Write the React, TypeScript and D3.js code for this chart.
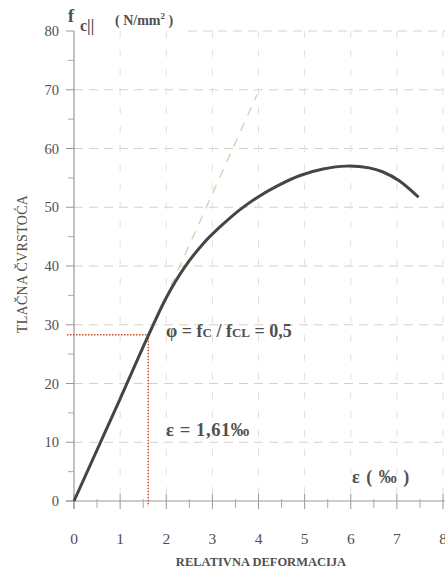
import React from "react";
import * as d3 from "d3";

// stress-strain curve
const strain = [0, 1.0, 1.62, 2.0, 2.4, 2.8, 3.2, 3.6, 4.0, 4.4, 4.9, 5.4, 5.9, 6.4, 6.7, 7.05, 7.47];
const stress = [0, 17.4, 28.3, 34.6, 39.8, 43.8, 46.9, 49.6, 51.8, 53.6, 55.4, 56.5, 57.0, 56.7, 56.0, 54.5, 51.7];

// dashed extension of the initial slope
const tangentStrain = [2.1, 3.97];
const tangentStress = [36.6, 69.2];

// marked point
const markStrain = 1.61;
const markStress = 28.3;

const xTicks = [0, 1, 2, 3, 4, 5, 6, 7, 8];
const xMinor = [0.5, 1.5, 2.5, 3.5, 4.5, 5.5, 6.5, 7.5];
const yTicks = [0, 10, 20, 30, 40, 50, 60, 70, 80];
const yMinor = [5, 15, 25, 35, 45, 55, 65, 75];

const W = 445;
const H = 569;
const serif = "'Liberation Serif', 'DejaVu Serif', serif";
const ink = "#505050";

const App = () => {
  const x = d3.scaleLinear().domain([0, 8]).range([74, 443]);
  const y = d3.scaleLinear().domain([0, 80]).range([501, 31]);

  const curve = d3
    .line<number>()
    .x((d, i) => x(strain[i]))
    .y((d) => y(d))
    .curve(d3.curveCatmullRom.alpha(0.5))(stress);

  return (
    <svg width={W} height={H} style={{ position: "absolute", left: 0, top: 0, background: "#fff" }}>
      {/* grid */}
      {yTicks.slice(1).map((t) => (
        <line
          key={"gy" + t}
          x1={t === 80 ? 188 : x(0)}
          x2={W}
          y1={y(t)}
          y2={y(t)}
          stroke="#d6d0cb"
          strokeWidth={1}
          strokeDasharray="9,6"
        />
      ))}
      {xTicks.slice(1).map((t) => (
        <line
          key={"gx" + t}
          x1={x(t)}
          x2={x(t)}
          y1={y(80)}
          y2={y(0)}
          stroke="#e2e0de"
          strokeWidth={1}
          strokeDasharray="7,12"
        />
      ))}

      {/* axes */}
      <line x1={x(0)} x2={x(0)} y1={y(80)} y2={y(0) + 8} stroke="#999" strokeWidth={1.2} />
      <line x1={66} x2={W} y1={y(0)} y2={y(0)} stroke="#999" strokeWidth={1.2} />
      {yTicks.map((t) => (
        <line key={"ty" + t} x1={66} x2={x(0)} y1={y(t)} y2={y(t)} stroke="#999" />
      ))}
      {yMinor.map((t) => (
        <line key={"my" + t} x1={68} x2={x(0)} y1={y(t)} y2={y(t)} stroke="#aaa" />
      ))}
      {xTicks.map((t) => (
        <line key={"tx" + t} x1={x(t)} x2={x(t)} y1={y(0) - 7} y2={y(0) + 8} stroke="#999" />
      ))}
      {xMinor.map((t) => (
        <line key={"mx" + t} x1={x(t)} x2={x(t)} y1={y(0) - 2} y2={y(0) + 7} stroke="#aaa" />
      ))}

      {/* tick labels */}
      {yTicks.map((t) => (
        <text key={"ly" + t} x={59} y={y(t) + 5} textAnchor="end" fontFamily={serif} fontSize={14.5} fill={ink}>
          {t}
        </text>
      ))}
      {xTicks.map((t) => (
        <text key={"lx" + t} x={x(t)} y={544} textAnchor="middle" fontFamily={serif} fontSize={15.5} fill={ink}>
          {t}
        </text>
      ))}

      {/* tangent */}
      <line
        x1={x(tangentStrain[0])}
        y1={y(tangentStress[0])}
        x2={x(tangentStrain[1])}
        y2={y(tangentStress[1])}
        stroke="#d8cda8"
        strokeWidth={1.3}
        strokeDasharray="9,8"
      />

      {/* marker lines */}
      <line x1={67} x2={x(markStrain)} y1={y(markStress)} y2={y(markStress)} stroke="#c8502a" strokeWidth={1.5} strokeDasharray="1.5,1.5" />
      <line x1={x(markStrain)} x2={x(markStrain)} y1={y(markStress)} y2={y(0) + 5} stroke="#c8502a" strokeWidth={1.5} strokeDasharray="1.5,1.5" />

      {/* curve */}
      <path d={curve ?? ""} fill="none" stroke="#454545" strokeWidth={3} strokeLinejoin="round" />

      {/* titles */}
      <text x={68} y={22} fontFamily={serif} fontSize={18} fontWeight="bold" fill={ink}>
        f
      </text>
      <text x={80} y={31} fontFamily={serif} fontSize={16} fontWeight="bold" fill={ink}>
        c||
      </text>
      <text x={115} y={25} fontFamily={serif} fontSize={14} fontWeight="bold" fill={ink}>
        ( N/mm<tspan dy={-6} fontSize={9}>2</tspan>
        <tspan dy={6}> )</tspan>
      </text>
      <text
        transform="translate(27,264) rotate(-90)"
        textAnchor="middle"
        fontFamily={serif}
        fontSize={14}
        fill={ink}
        letterSpacing={0.3}
      >
        TLAČNA  ČVRSTOĆA
      </text>
      <text x={261} y={566} textAnchor="middle" fontFamily={serif} fontSize={12.5} fontWeight="bold" fill={ink}>
        RELATIVNA  DEFORMACIJA
      </text>

      {/* annotations */}
      <text x={166} y={337} fontFamily={serif} fontSize={18} fontWeight="bold" fill={ink}>
        φ =  f<tspan fontSize={13}>C</tspan> / f<tspan fontSize={13}>CL</tspan> = 0,5
      </text>
      <text x={166} y={436} fontFamily={serif} fontSize={18.5} fontWeight="bold" fill={ink} letterSpacing={0.6}>
        ε =  1,61‰
      </text>
      <text x={352} y={483} fontFamily={serif} fontSize={18} fontWeight="bold" fill={ink} letterSpacing={1}>
        ε ( ‰ )
      </text>
    </svg>
  );
};

export default App;
